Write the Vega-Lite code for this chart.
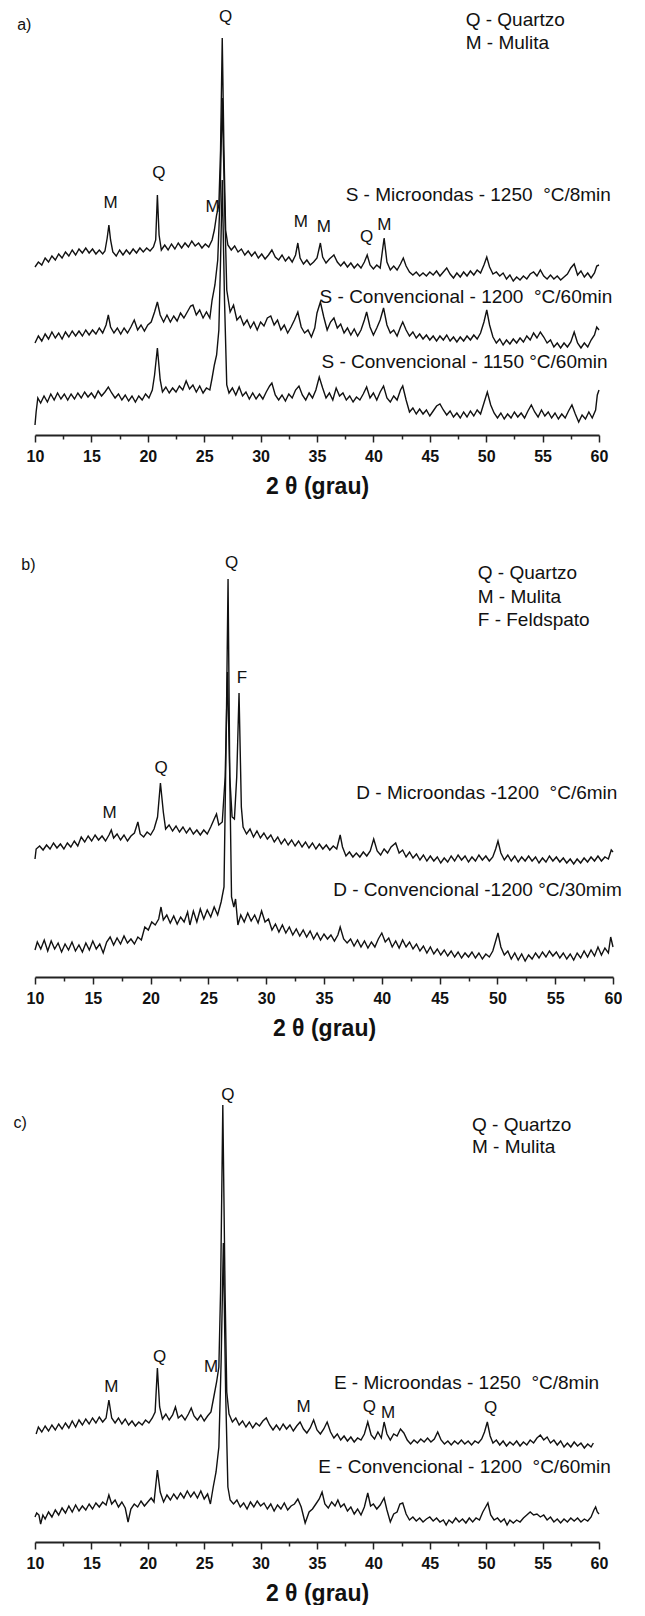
{
"$schema": "https://vega.github.io/schema/vega-lite/v6.json",
"background": "white",
"padding": {"left": 13, "top": 5, "right": 0, "bottom": 0},
"spacing": 110,
"bounds": "flush",
"config": {
  "view": {"stroke": null},
  "font": "Liberation Sans",
  "axis": {"grid": false, "domainColor": "#222", "domainWidth": 2, "tickColor": "#222", "tickWidth": 1.5, "labelFont": "Liberation Sans", "labelFontWeight": "bold", "labelFontSize": 16, "labelColor": "#111", "titleFont": "Liberation Sans", "titleFontWeight": "bold", "titleFontSize": 23, "titleColor": "#111", "labelFlush": false, "labelOverlap": false}
},
"datasets": {
"ca": [
{"c":"a1","x":10.0,"y":168},{"c":"a1","x":10.3,"y":173},{"c":"a1","x":10.6,"y":170},{"c":"a1","x":10.9,"y":177},{"c":"a1","x":11.2,"y":173},{"c":"a1","x":11.5,"y":179},{"c":"a1","x":11.8,"y":175},{"c":"a1","x":12.1,"y":181},{"c":"a1","x":12.4,"y":177},{"c":"a1","x":12.7,"y":183},{"c":"a1","x":13.0,"y":179},{"c":"a1","x":13.3,"y":185},{"c":"a1","x":13.6,"y":180},{"c":"a1","x":13.9,"y":186},{"c":"a1","x":14.2,"y":182},{"c":"a1","x":14.5,"y":187},{"c":"a1","x":14.8,"y":182},{"c":"a1","x":15.1,"y":186},{"c":"a1","x":15.4,"y":181},{"c":"a1","x":15.7,"y":185},{"c":"a1","x":16.0,"y":181},{"c":"a1","x":16.2,"y":184},{"c":"a1","x":16.4,"y":197},{"c":"a1","x":16.55,"y":210},{"c":"a1","x":16.7,"y":195},{"c":"a1","x":16.9,"y":183},{"c":"a1","x":17.2,"y":179},{"c":"a1","x":17.5,"y":185},{"c":"a1","x":17.8,"y":180},{"c":"a1","x":18.1,"y":185},{"c":"a1","x":18.4,"y":181},{"c":"a1","x":18.7,"y":186},{"c":"a1","x":19.0,"y":182},{"c":"a1","x":19.3,"y":187},{"c":"a1","x":19.6,"y":183},{"c":"a1","x":19.9,"y":187},{"c":"a1","x":20.2,"y":184},{"c":"a1","x":20.5,"y":188},{"c":"a1","x":20.7,"y":195},{"c":"a1","x":20.85,"y":240},{"c":"a1","x":21.0,"y":200},{"c":"a1","x":21.2,"y":185},{"c":"a1","x":21.5,"y":190},{"c":"a1","x":21.8,"y":185},{"c":"a1","x":22.1,"y":191},{"c":"a1","x":22.4,"y":186},{"c":"a1","x":22.7,"y":192},{"c":"a1","x":23.0,"y":187},{"c":"a1","x":23.3,"y":192},{"c":"a1","x":23.6,"y":188},{"c":"a1","x":23.9,"y":194},{"c":"a1","x":24.2,"y":189},{"c":"a1","x":24.5,"y":192},{"c":"a1","x":24.8,"y":187},{"c":"a1","x":25.1,"y":191},{"c":"a1","x":25.4,"y":188},{"c":"a1","x":25.7,"y":195},{"c":"a1","x":25.9,"y":205},{"c":"a1","x":26.1,"y":220},{"c":"a1","x":26.3,"y":230},{"c":"a1","x":26.45,"y":285},{"c":"a1","x":26.6,"y":397},{"c":"a1","x":26.75,"y":285},{"c":"a1","x":26.9,"y":205},{"c":"a1","x":27.1,"y":190},{"c":"a1","x":27.4,"y":185},{"c":"a1","x":27.7,"y":189},{"c":"a1","x":28.0,"y":183},{"c":"a1","x":28.3,"y":186},{"c":"a1","x":28.6,"y":180},{"c":"a1","x":28.9,"y":184},{"c":"a1","x":29.2,"y":179},{"c":"a1","x":29.5,"y":183},{"c":"a1","x":29.8,"y":177},{"c":"a1","x":30.1,"y":181},{"c":"a1","x":30.4,"y":176},{"c":"a1","x":30.7,"y":180},{"c":"a1","x":31.0,"y":185},{"c":"a1","x":31.3,"y":178},{"c":"a1","x":31.6,"y":175},{"c":"a1","x":31.9,"y":180},{"c":"a1","x":32.2,"y":174},{"c":"a1","x":32.5,"y":178},{"c":"a1","x":32.8,"y":173},{"c":"a1","x":33.1,"y":180},{"c":"a1","x":33.3,"y":192},{"c":"a1","x":33.5,"y":177},{"c":"a1","x":33.8,"y":171},{"c":"a1","x":34.1,"y":175},{"c":"a1","x":34.4,"y":170},{"c":"a1","x":34.7,"y":173},{"c":"a1","x":35.0,"y":177},{"c":"a1","x":35.3,"y":192},{"c":"a1","x":35.5,"y":178},{"c":"a1","x":35.8,"y":172},{"c":"a1","x":36.1,"y":176},{"c":"a1","x":36.5,"y":180},{"c":"a1","x":36.8,"y":173},{"c":"a1","x":37.1,"y":169},{"c":"a1","x":37.4,"y":173},{"c":"a1","x":37.7,"y":168},{"c":"a1","x":38.0,"y":172},{"c":"a1","x":38.3,"y":167},{"c":"a1","x":38.6,"y":171},{"c":"a1","x":38.9,"y":167},{"c":"a1","x":39.2,"y":173},{"c":"a1","x":39.45,"y":180},{"c":"a1","x":39.7,"y":170},{"c":"a1","x":40.0,"y":166},{"c":"a1","x":40.3,"y":170},{"c":"a1","x":40.6,"y":167},{"c":"a1","x":40.95,"y":197},{"c":"a1","x":41.2,"y":173},{"c":"a1","x":41.5,"y":165},{"c":"a1","x":41.8,"y":169},{"c":"a1","x":42.1,"y":165},{"c":"a1","x":42.4,"y":171},{"c":"a1","x":42.65,"y":177},{"c":"a1","x":42.9,"y":169},{"c":"a1","x":43.2,"y":163},{"c":"a1","x":43.5,"y":160},{"c":"a1","x":43.8,"y":163},{"c":"a1","x":44.1,"y":159},{"c":"a1","x":44.4,"y":162},{"c":"a1","x":44.7,"y":159},{"c":"a1","x":45.0,"y":163},{"c":"a1","x":45.3,"y":160},{"c":"a1","x":45.6,"y":164},{"c":"a1","x":45.9,"y":159},{"c":"a1","x":46.2,"y":163},{"c":"a1","x":46.5,"y":167},{"c":"a1","x":46.8,"y":161},{"c":"a1","x":47.1,"y":157},{"c":"a1","x":47.4,"y":162},{"c":"a1","x":47.7,"y":158},{"c":"a1","x":48.0,"y":163},{"c":"a1","x":48.3,"y":159},{"c":"a1","x":48.6,"y":164},{"c":"a1","x":48.9,"y":160},{"c":"a1","x":49.2,"y":165},{"c":"a1","x":49.5,"y":162},{"c":"a1","x":49.8,"y":170},{"c":"a1","x":50.05,"y":178},{"c":"a1","x":50.3,"y":168},{"c":"a1","x":50.6,"y":161},{"c":"a1","x":50.9,"y":163},{"c":"a1","x":51.2,"y":159},{"c":"a1","x":51.5,"y":162},{"c":"a1","x":51.8,"y":156},{"c":"a1","x":52.1,"y":160},{"c":"a1","x":52.4,"y":154},{"c":"a1","x":52.7,"y":158},{"c":"a1","x":53.0,"y":155},{"c":"a1","x":53.3,"y":159},{"c":"a1","x":53.6,"y":156},{"c":"a1","x":53.9,"y":161},{"c":"a1","x":54.2,"y":163},{"c":"a1","x":54.5,"y":159},{"c":"a1","x":54.8,"y":165},{"c":"a1","x":55.1,"y":159},{"c":"a1","x":55.4,"y":156},{"c":"a1","x":55.7,"y":160},{"c":"a1","x":56.0,"y":156},{"c":"a1","x":56.3,"y":159},{"c":"a1","x":56.6,"y":155},{"c":"a1","x":56.9,"y":158},{"c":"a1","x":57.2,"y":161},{"c":"a1","x":57.5,"y":167},{"c":"a1","x":57.8,"y":171},{"c":"a1","x":58.1,"y":160},{"c":"a1","x":58.4,"y":164},{"c":"a1","x":58.7,"y":158},{"c":"a1","x":59.0,"y":162},{"c":"a1","x":59.3,"y":157},{"c":"a1","x":59.6,"y":162},{"c":"a1","x":59.8,"y":169},{"c":"a1","x":60.0,"y":170},
{"c":"a2","x":10.0,"y":92},{"c":"a2","x":10.3,"y":99},{"c":"a2","x":10.6,"y":94},{"c":"a2","x":10.9,"y":101},{"c":"a2","x":11.2,"y":96},{"c":"a2","x":11.5,"y":103},{"c":"a2","x":11.8,"y":97},{"c":"a2","x":12.1,"y":102},{"c":"a2","x":12.4,"y":96},{"c":"a2","x":12.7,"y":103},{"c":"a2","x":13.0,"y":98},{"c":"a2","x":13.3,"y":104},{"c":"a2","x":13.6,"y":99},{"c":"a2","x":13.9,"y":104},{"c":"a2","x":14.2,"y":99},{"c":"a2","x":14.5,"y":105},{"c":"a2","x":14.8,"y":100},{"c":"a2","x":15.1,"y":105},{"c":"a2","x":15.4,"y":101},{"c":"a2","x":15.7,"y":107},{"c":"a2","x":16.0,"y":102},{"c":"a2","x":16.3,"y":110},{"c":"a2","x":16.5,"y":120},{"c":"a2","x":16.7,"y":108},{"c":"a2","x":17.0,"y":102},{"c":"a2","x":17.3,"y":107},{"c":"a2","x":17.6,"y":101},{"c":"a2","x":17.9,"y":107},{"c":"a2","x":18.2,"y":102},{"c":"a2","x":18.5,"y":108},{"c":"a2","x":18.8,"y":115},{"c":"a2","x":19.1,"y":105},{"c":"a2","x":19.4,"y":110},{"c":"a2","x":19.7,"y":104},{"c":"a2","x":20.0,"y":110},{"c":"a2","x":20.3,"y":113},{"c":"a2","x":20.6,"y":123},{"c":"a2","x":20.85,"y":133},{"c":"a2","x":21.1,"y":120},{"c":"a2","x":21.4,"y":113},{"c":"a2","x":21.7,"y":120},{"c":"a2","x":22.0,"y":113},{"c":"a2","x":22.3,"y":119},{"c":"a2","x":22.6,"y":114},{"c":"a2","x":22.9,"y":122},{"c":"a2","x":23.2,"y":117},{"c":"a2","x":23.5,"y":123},{"c":"a2","x":23.8,"y":129},{"c":"a2","x":24.0,"y":130},{"c":"a2","x":24.3,"y":120},{"c":"a2","x":24.6,"y":125},{"c":"a2","x":24.9,"y":117},{"c":"a2","x":25.2,"y":123},{"c":"a2","x":25.5,"y":117},{"c":"a2","x":25.7,"y":135},{"c":"a2","x":25.95,"y":150},{"c":"a2","x":26.2,"y":175},{"c":"a2","x":26.4,"y":235},{"c":"a2","x":26.6,"y":337},{"c":"a2","x":26.8,"y":235},{"c":"a2","x":27.0,"y":145},{"c":"a2","x":27.3,"y":123},{"c":"a2","x":27.6,"y":130},{"c":"a2","x":27.9,"y":115},{"c":"a2","x":28.2,"y":119},{"c":"a2","x":28.5,"y":110},{"c":"a2","x":28.8,"y":115},{"c":"a2","x":29.1,"y":107},{"c":"a2","x":29.4,"y":113},{"c":"a2","x":29.7,"y":105},{"c":"a2","x":30.0,"y":113},{"c":"a2","x":30.3,"y":109},{"c":"a2","x":30.6,"y":117},{"c":"a2","x":30.9,"y":119},{"c":"a2","x":31.2,"y":110},{"c":"a2","x":31.5,"y":115},{"c":"a2","x":31.8,"y":105},{"c":"a2","x":32.1,"y":110},{"c":"a2","x":32.4,"y":102},{"c":"a2","x":32.7,"y":108},{"c":"a2","x":33.0,"y":115},{"c":"a2","x":33.3,"y":123},{"c":"a2","x":33.6,"y":108},{"c":"a2","x":33.9,"y":102},{"c":"a2","x":34.2,"y":105},{"c":"a2","x":34.5,"y":98},{"c":"a2","x":34.8,"y":107},{"c":"a2","x":35.0,"y":122},{"c":"a2","x":35.3,"y":133},{"c":"a2","x":35.6,"y":118},{"c":"a2","x":35.9,"y":105},{"c":"a2","x":36.2,"y":113},{"c":"a2","x":36.5,"y":117},{"c":"a2","x":36.8,"y":107},{"c":"a2","x":37.1,"y":111},{"c":"a2","x":37.4,"y":102},{"c":"a2","x":37.7,"y":107},{"c":"a2","x":38.0,"y":100},{"c":"a2","x":38.3,"y":106},{"c":"a2","x":38.6,"y":99},{"c":"a2","x":38.9,"y":105},{"c":"a2","x":39.2,"y":115},{"c":"a2","x":39.4,"y":123},{"c":"a2","x":39.7,"y":108},{"c":"a2","x":40.0,"y":100},{"c":"a2","x":40.3,"y":107},{"c":"a2","x":40.6,"y":115},{"c":"a2","x":40.9,"y":127},{"c":"a2","x":41.2,"y":110},{"c":"a2","x":41.5,"y":102},{"c":"a2","x":41.8,"y":105},{"c":"a2","x":42.1,"y":99},{"c":"a2","x":42.4,"y":108},{"c":"a2","x":42.6,"y":113},{"c":"a2","x":42.9,"y":105},{"c":"a2","x":43.2,"y":99},{"c":"a2","x":43.5,"y":103},{"c":"a2","x":43.8,"y":97},{"c":"a2","x":44.1,"y":101},{"c":"a2","x":44.4,"y":96},{"c":"a2","x":44.7,"y":100},{"c":"a2","x":45.0,"y":95},{"c":"a2","x":45.3,"y":99},{"c":"a2","x":45.6,"y":94},{"c":"a2","x":45.9,"y":99},{"c":"a2","x":46.2,"y":95},{"c":"a2","x":46.5,"y":100},{"c":"a2","x":46.8,"y":94},{"c":"a2","x":47.1,"y":98},{"c":"a2","x":47.4,"y":93},{"c":"a2","x":47.7,"y":98},{"c":"a2","x":48.0,"y":94},{"c":"a2","x":48.3,"y":99},{"c":"a2","x":48.6,"y":95},{"c":"a2","x":48.9,"y":100},{"c":"a2","x":49.2,"y":96},{"c":"a2","x":49.5,"y":102},{"c":"a2","x":49.8,"y":113},{"c":"a2","x":50.05,"y":125},{"c":"a2","x":50.3,"y":110},{"c":"a2","x":50.6,"y":98},{"c":"a2","x":50.9,"y":92},{"c":"a2","x":51.2,"y":96},{"c":"a2","x":51.5,"y":90},{"c":"a2","x":51.8,"y":95},{"c":"a2","x":52.1,"y":91},{"c":"a2","x":52.4,"y":96},{"c":"a2","x":52.7,"y":92},{"c":"a2","x":53.0,"y":97},{"c":"a2","x":53.3,"y":93},{"c":"a2","x":53.6,"y":99},{"c":"a2","x":53.9,"y":95},{"c":"a2","x":54.2,"y":102},{"c":"a2","x":54.5,"y":97},{"c":"a2","x":54.8,"y":103},{"c":"a2","x":55.1,"y":98},{"c":"a2","x":55.4,"y":92},{"c":"a2","x":55.7,"y":95},{"c":"a2","x":56.0,"y":88},{"c":"a2","x":56.3,"y":92},{"c":"a2","x":56.6,"y":87},{"c":"a2","x":56.9,"y":92},{"c":"a2","x":57.2,"y":88},{"c":"a2","x":57.5,"y":93},{"c":"a2","x":57.8,"y":103},{"c":"a2","x":58.1,"y":92},{"c":"a2","x":58.4,"y":87},{"c":"a2","x":58.7,"y":92},{"c":"a2","x":59.0,"y":88},{"c":"a2","x":59.3,"y":95},{"c":"a2","x":59.6,"y":100},{"c":"a2","x":59.8,"y":108},{"c":"a2","x":60.0,"y":105},
{"c":"a3","x":10.0,"y":10},{"c":"a3","x":10.1,"y":23},{"c":"a3","x":10.25,"y":37},{"c":"a3","x":10.5,"y":32},{"c":"a3","x":10.8,"y":39},{"c":"a3","x":11.1,"y":33},{"c":"a3","x":11.4,"y":41},{"c":"a3","x":11.7,"y":35},{"c":"a3","x":12.0,"y":42},{"c":"a3","x":12.3,"y":36},{"c":"a3","x":12.6,"y":41},{"c":"a3","x":12.9,"y":35},{"c":"a3","x":13.2,"y":41},{"c":"a3","x":13.5,"y":36},{"c":"a3","x":13.8,"y":42},{"c":"a3","x":14.1,"y":37},{"c":"a3","x":14.4,"y":43},{"c":"a3","x":14.7,"y":38},{"c":"a3","x":15.0,"y":42},{"c":"a3","x":15.3,"y":37},{"c":"a3","x":15.6,"y":44},{"c":"a3","x":15.9,"y":39},{"c":"a3","x":16.2,"y":43},{"c":"a3","x":16.5,"y":48},{"c":"a3","x":16.8,"y":42},{"c":"a3","x":17.1,"y":37},{"c":"a3","x":17.4,"y":41},{"c":"a3","x":17.7,"y":35},{"c":"a3","x":18.0,"y":40},{"c":"a3","x":18.3,"y":34},{"c":"a3","x":18.6,"y":39},{"c":"a3","x":18.9,"y":33},{"c":"a3","x":19.2,"y":39},{"c":"a3","x":19.5,"y":35},{"c":"a3","x":19.8,"y":41},{"c":"a3","x":20.1,"y":37},{"c":"a3","x":20.4,"y":45},{"c":"a3","x":20.6,"y":60},{"c":"a3","x":20.85,"y":87},{"c":"a3","x":21.1,"y":55},{"c":"a3","x":21.3,"y":43},{"c":"a3","x":21.6,"y":48},{"c":"a3","x":21.9,"y":42},{"c":"a3","x":22.2,"y":47},{"c":"a3","x":22.5,"y":43},{"c":"a3","x":22.8,"y":49},{"c":"a3","x":23.1,"y":45},{"c":"a3","x":23.4,"y":54},{"c":"a3","x":23.7,"y":46},{"c":"a3","x":24.0,"y":50},{"c":"a3","x":24.3,"y":43},{"c":"a3","x":24.6,"y":49},{"c":"a3","x":24.9,"y":42},{"c":"a3","x":25.2,"y":47},{"c":"a3","x":25.5,"y":45},{"c":"a3","x":25.7,"y":57},{"c":"a3","x":25.9,"y":70},{"c":"a3","x":26.1,"y":80},{"c":"a3","x":26.3,"y":105},{"c":"a3","x":26.45,"y":175},{"c":"a3","x":26.6,"y":255},{"c":"a3","x":26.8,"y":135},{"c":"a3","x":27.0,"y":50},{"c":"a3","x":27.2,"y":42},{"c":"a3","x":27.5,"y":47},{"c":"a3","x":27.8,"y":40},{"c":"a3","x":28.1,"y":48},{"c":"a3","x":28.4,"y":39},{"c":"a3","x":28.7,"y":43},{"c":"a3","x":29.0,"y":36},{"c":"a3","x":29.3,"y":42},{"c":"a3","x":29.6,"y":36},{"c":"a3","x":29.9,"y":41},{"c":"a3","x":30.2,"y":36},{"c":"a3","x":30.5,"y":43},{"c":"a3","x":30.8,"y":49},{"c":"a3","x":31.0,"y":52},{"c":"a3","x":31.3,"y":40},{"c":"a3","x":31.6,"y":35},{"c":"a3","x":31.9,"y":40},{"c":"a3","x":32.2,"y":34},{"c":"a3","x":32.5,"y":41},{"c":"a3","x":32.8,"y":37},{"c":"a3","x":33.1,"y":45},{"c":"a3","x":33.4,"y":49},{"c":"a3","x":33.7,"y":40},{"c":"a3","x":34.0,"y":35},{"c":"a3","x":34.3,"y":42},{"c":"a3","x":34.6,"y":37},{"c":"a3","x":34.9,"y":45},{"c":"a3","x":35.2,"y":58},{"c":"a3","x":35.5,"y":47},{"c":"a3","x":35.8,"y":37},{"c":"a3","x":36.1,"y":42},{"c":"a3","x":36.4,"y":35},{"c":"a3","x":36.7,"y":47},{"c":"a3","x":37.0,"y":39},{"c":"a3","x":37.3,"y":42},{"c":"a3","x":37.6,"y":35},{"c":"a3","x":37.9,"y":39},{"c":"a3","x":38.2,"y":33},{"c":"a3","x":38.5,"y":38},{"c":"a3","x":38.8,"y":35},{"c":"a3","x":39.1,"y":41},{"c":"a3","x":39.4,"y":48},{"c":"a3","x":39.7,"y":37},{"c":"a3","x":40.0,"y":42},{"c":"a3","x":40.3,"y":35},{"c":"a3","x":40.6,"y":43},{"c":"a3","x":40.9,"y":49},{"c":"a3","x":41.2,"y":37},{"c":"a3","x":41.5,"y":33},{"c":"a3","x":41.8,"y":39},{"c":"a3","x":42.1,"y":35},{"c":"a3","x":42.4,"y":45},{"c":"a3","x":42.6,"y":49},{"c":"a3","x":42.9,"y":35},{"c":"a3","x":43.2,"y":23},{"c":"a3","x":43.5,"y":27},{"c":"a3","x":43.8,"y":21},{"c":"a3","x":44.1,"y":26},{"c":"a3","x":44.4,"y":21},{"c":"a3","x":44.7,"y":25},{"c":"a3","x":45.0,"y":19},{"c":"a3","x":45.3,"y":24},{"c":"a3","x":45.6,"y":29},{"c":"a3","x":45.9,"y":31},{"c":"a3","x":46.2,"y":25},{"c":"a3","x":46.5,"y":20},{"c":"a3","x":46.8,"y":24},{"c":"a3","x":47.1,"y":18},{"c":"a3","x":47.4,"y":22},{"c":"a3","x":47.7,"y":17},{"c":"a3","x":48.0,"y":23},{"c":"a3","x":48.3,"y":18},{"c":"a3","x":48.6,"y":24},{"c":"a3","x":48.9,"y":19},{"c":"a3","x":49.2,"y":25},{"c":"a3","x":49.5,"y":21},{"c":"a3","x":49.8,"y":32},{"c":"a3","x":50.1,"y":43},{"c":"a3","x":50.4,"y":30},{"c":"a3","x":50.7,"y":22},{"c":"a3","x":51.0,"y":17},{"c":"a3","x":51.3,"y":22},{"c":"a3","x":51.6,"y":16},{"c":"a3","x":51.9,"y":21},{"c":"a3","x":52.2,"y":17},{"c":"a3","x":52.5,"y":23},{"c":"a3","x":52.8,"y":18},{"c":"a3","x":53.1,"y":22},{"c":"a3","x":53.4,"y":17},{"c":"a3","x":53.7,"y":24},{"c":"a3","x":54.0,"y":30},{"c":"a3","x":54.3,"y":23},{"c":"a3","x":54.6,"y":18},{"c":"a3","x":54.9,"y":25},{"c":"a3","x":55.2,"y":19},{"c":"a3","x":55.5,"y":23},{"c":"a3","x":55.8,"y":17},{"c":"a3","x":56.1,"y":22},{"c":"a3","x":56.4,"y":16},{"c":"a3","x":56.7,"y":21},{"c":"a3","x":57.0,"y":17},{"c":"a3","x":57.3,"y":24},{"c":"a3","x":57.6,"y":30},{"c":"a3","x":57.9,"y":21},{"c":"a3","x":58.2,"y":13},{"c":"a3","x":58.5,"y":20},{"c":"a3","x":58.8,"y":16},{"c":"a3","x":59.1,"y":23},{"c":"a3","x":59.4,"y":17},{"c":"a3","x":59.7,"y":25},{"c":"a3","x":59.85,"y":40},{"c":"a3","x":60.0,"y":45}
],
"ta": [
{"k":"panel","x":8.42,"y":410,"t":"a)"},
{"k":"peak","x":26.9,"y":418,"t":"Q"},
{"k":"label","x":48.18,"y":415,"t":"Q - Quartzo"},
{"k":"label","x":48.18,"y":392,"t":"M - Mulita"},
{"k":"peak","x":20.97,"y":262,"t":"Q"},
{"k":"label","x":37.54,"y":240,"t":"S - Microondas - 1250 \u00a0°C/8min"},
{"k":"peak","x":16.71,"y":232,"t":"M"},
{"k":"peak","x":25.75,"y":228,"t":"M"},
{"k":"peak","x":33.56,"y":213,"t":"M"},
{"k":"peak","x":35.6,"y":208,"t":"M"},
{"k":"peak","x":39.4,"y":198,"t":"Q"},
{"k":"peak","x":40.96,"y":210,"t":"M"},
{"k":"label","x":35.23,"y":138,"t":"S - Convencional - 1200 \u00a0°C/60min"},
{"k":"label","x":35.4,"y":73,"t":"S - Convencional - 1150 °C/60min"}
],
"cb": [
{"c":"b1","x":10.0,"y":118},{"c":"b1","x":10.1,"y":128},{"c":"b1","x":10.4,"y":131},{"c":"b1","x":10.7,"y":127},{"c":"b1","x":11.0,"y":132},{"c":"b1","x":11.3,"y":128},{"c":"b1","x":11.6,"y":134},{"c":"b1","x":11.9,"y":129},{"c":"b1","x":12.2,"y":133},{"c":"b1","x":12.5,"y":128},{"c":"b1","x":12.8,"y":134},{"c":"b1","x":13.1,"y":130},{"c":"b1","x":13.4,"y":136},{"c":"b1","x":13.7,"y":131},{"c":"b1","x":14.0,"y":140},{"c":"b1","x":14.3,"y":135},{"c":"b1","x":14.6,"y":141},{"c":"b1","x":14.9,"y":136},{"c":"b1","x":15.2,"y":142},{"c":"b1","x":15.5,"y":137},{"c":"b1","x":15.8,"y":141},{"c":"b1","x":16.1,"y":136},{"c":"b1","x":16.4,"y":142},{"c":"b1","x":16.6,"y":147},{"c":"b1","x":16.8,"y":139},{"c":"b1","x":17.1,"y":143},{"c":"b1","x":17.4,"y":137},{"c":"b1","x":17.7,"y":142},{"c":"b1","x":18.0,"y":136},{"c":"b1","x":18.3,"y":141},{"c":"b1","x":18.6,"y":144},{"c":"b1","x":18.9,"y":155},{"c":"b1","x":19.1,"y":143},{"c":"b1","x":19.4,"y":140},{"c":"b1","x":19.7,"y":145},{"c":"b1","x":20.0,"y":142},{"c":"b1","x":20.3,"y":148},{"c":"b1","x":20.6,"y":160},{"c":"b1","x":20.85,"y":194},{"c":"b1","x":21.1,"y":165},{"c":"b1","x":21.3,"y":148},{"c":"b1","x":21.6,"y":152},{"c":"b1","x":21.9,"y":146},{"c":"b1","x":22.2,"y":151},{"c":"b1","x":22.5,"y":145},{"c":"b1","x":22.8,"y":150},{"c":"b1","x":23.1,"y":144},{"c":"b1","x":23.4,"y":149},{"c":"b1","x":23.7,"y":143},{"c":"b1","x":24.0,"y":147},{"c":"b1","x":24.3,"y":142},{"c":"b1","x":24.6,"y":147},{"c":"b1","x":24.9,"y":143},{"c":"b1","x":25.2,"y":150},{"c":"b1","x":25.5,"y":158},{"c":"b1","x":25.7,"y":163},{"c":"b1","x":25.9,"y":152},{"c":"b1","x":26.2,"y":155},{"c":"b1","x":26.45,"y":200},{"c":"b1","x":26.65,"y":305},{"c":"b1","x":26.85,"y":200},{"c":"b1","x":27.05,"y":160},{"c":"b1","x":27.25,"y":158},{"c":"b1","x":27.45,"y":200},{"c":"b1","x":27.65,"y":284},{"c":"b1","x":27.85,"y":170},{"c":"b1","x":28.0,"y":150},{"c":"b1","x":28.3,"y":143},{"c":"b1","x":28.6,"y":148},{"c":"b1","x":28.9,"y":140},{"c":"b1","x":29.2,"y":146},{"c":"b1","x":29.5,"y":139},{"c":"b1","x":29.8,"y":144},{"c":"b1","x":30.1,"y":138},{"c":"b1","x":30.4,"y":142},{"c":"b1","x":30.7,"y":135},{"c":"b1","x":31.0,"y":140},{"c":"b1","x":31.3,"y":133},{"c":"b1","x":31.6,"y":138},{"c":"b1","x":31.9,"y":132},{"c":"b1","x":32.2,"y":137},{"c":"b1","x":32.5,"y":131},{"c":"b1","x":32.8,"y":136},{"c":"b1","x":33.1,"y":130},{"c":"b1","x":33.4,"y":135},{"c":"b1","x":33.7,"y":129},{"c":"b1","x":34.0,"y":134},{"c":"b1","x":34.3,"y":128},{"c":"b1","x":34.6,"y":133},{"c":"b1","x":34.9,"y":128},{"c":"b1","x":35.2,"y":132},{"c":"b1","x":35.5,"y":127},{"c":"b1","x":35.8,"y":131},{"c":"b1","x":36.1,"y":128},{"c":"b1","x":36.4,"y":142},{"c":"b1","x":36.6,"y":130},{"c":"b1","x":36.9,"y":121},{"c":"b1","x":37.2,"y":125},{"c":"b1","x":37.5,"y":120},{"c":"b1","x":37.8,"y":124},{"c":"b1","x":38.1,"y":120},{"c":"b1","x":38.4,"y":125},{"c":"b1","x":38.7,"y":121},{"c":"b1","x":39.0,"y":126},{"c":"b1","x":39.3,"y":138},{"c":"b1","x":39.6,"y":126},{"c":"b1","x":39.9,"y":122},{"c":"b1","x":40.2,"y":128},{"c":"b1","x":40.5,"y":124},{"c":"b1","x":40.8,"y":130},{"c":"b1","x":41.2,"y":134},{"c":"b1","x":41.5,"y":124},{"c":"b1","x":41.8,"y":127},{"c":"b1","x":42.1,"y":120},{"c":"b1","x":42.4,"y":125},{"c":"b1","x":42.7,"y":119},{"c":"b1","x":43.0,"y":123},{"c":"b1","x":43.3,"y":117},{"c":"b1","x":43.6,"y":122},{"c":"b1","x":43.9,"y":116},{"c":"b1","x":44.2,"y":121},{"c":"b1","x":44.5,"y":116},{"c":"b1","x":44.8,"y":120},{"c":"b1","x":45.1,"y":114},{"c":"b1","x":45.4,"y":119},{"c":"b1","x":45.7,"y":115},{"c":"b1","x":46.0,"y":121},{"c":"b1","x":46.3,"y":116},{"c":"b1","x":46.6,"y":122},{"c":"b1","x":46.9,"y":117},{"c":"b1","x":47.2,"y":121},{"c":"b1","x":47.5,"y":115},{"c":"b1","x":47.8,"y":120},{"c":"b1","x":48.1,"y":116},{"c":"b1","x":48.4,"y":122},{"c":"b1","x":48.7,"y":117},{"c":"b1","x":49.0,"y":121},{"c":"b1","x":49.3,"y":116},{"c":"b1","x":49.6,"y":120},{"c":"b1","x":49.85,"y":128},{"c":"b1","x":50.05,"y":136},{"c":"b1","x":50.3,"y":124},{"c":"b1","x":50.6,"y":117},{"c":"b1","x":50.9,"y":122},{"c":"b1","x":51.2,"y":116},{"c":"b1","x":51.5,"y":121},{"c":"b1","x":51.8,"y":115},{"c":"b1","x":52.1,"y":120},{"c":"b1","x":52.4,"y":116},{"c":"b1","x":52.7,"y":121},{"c":"b1","x":53.0,"y":116},{"c":"b1","x":53.3,"y":120},{"c":"b1","x":53.6,"y":114},{"c":"b1","x":53.9,"y":119},{"c":"b1","x":54.2,"y":115},{"c":"b1","x":54.5,"y":121},{"c":"b1","x":54.8,"y":116},{"c":"b1","x":55.1,"y":120},{"c":"b1","x":55.4,"y":115},{"c":"b1","x":55.7,"y":119},{"c":"b1","x":56.0,"y":114},{"c":"b1","x":56.3,"y":118},{"c":"b1","x":56.6,"y":113},{"c":"b1","x":56.9,"y":118},{"c":"b1","x":57.2,"y":114},{"c":"b1","x":57.5,"y":119},{"c":"b1","x":57.8,"y":115},{"c":"b1","x":58.1,"y":120},{"c":"b1","x":58.4,"y":116},{"c":"b1","x":58.7,"y":121},{"c":"b1","x":59.0,"y":116},{"c":"b1","x":59.3,"y":120},{"c":"b1","x":59.6,"y":118},{"c":"b1","x":59.85,"y":127},{"c":"b1","x":60.0,"y":125},
{"c":"b2","x":10.0,"y":27},{"c":"b2","x":10.2,"y":35},{"c":"b2","x":10.5,"y":28},{"c":"b2","x":10.8,"y":37},{"c":"b2","x":11.1,"y":26},{"c":"b2","x":11.4,"y":36},{"c":"b2","x":11.7,"y":28},{"c":"b2","x":12.0,"y":34},{"c":"b2","x":12.3,"y":25},{"c":"b2","x":12.6,"y":33},{"c":"b2","x":12.9,"y":27},{"c":"b2","x":13.2,"y":35},{"c":"b2","x":13.5,"y":26},{"c":"b2","x":13.8,"y":32},{"c":"b2","x":14.1,"y":25},{"c":"b2","x":14.4,"y":34},{"c":"b2","x":14.7,"y":27},{"c":"b2","x":15.0,"y":36},{"c":"b2","x":15.3,"y":28},{"c":"b2","x":15.6,"y":33},{"c":"b2","x":15.9,"y":24},{"c":"b2","x":16.2,"y":35},{"c":"b2","x":16.5,"y":40},{"c":"b2","x":16.8,"y":32},{"c":"b2","x":17.1,"y":39},{"c":"b2","x":17.4,"y":33},{"c":"b2","x":17.7,"y":41},{"c":"b2","x":18.0,"y":34},{"c":"b2","x":18.3,"y":38},{"c":"b2","x":18.6,"y":33},{"c":"b2","x":18.9,"y":40},{"c":"b2","x":19.2,"y":37},{"c":"b2","x":19.5,"y":50},{"c":"b2","x":19.8,"y":47},{"c":"b2","x":20.1,"y":55},{"c":"b2","x":20.4,"y":52},{"c":"b2","x":20.7,"y":58},{"c":"b2","x":20.9,"y":70},{"c":"b2","x":21.1,"y":57},{"c":"b2","x":21.4,"y":62},{"c":"b2","x":21.7,"y":54},{"c":"b2","x":22.0,"y":61},{"c":"b2","x":22.3,"y":53},{"c":"b2","x":22.6,"y":60},{"c":"b2","x":22.9,"y":55},{"c":"b2","x":23.2,"y":65},{"c":"b2","x":23.4,"y":52},{"c":"b2","x":23.7,"y":66},{"c":"b2","x":24.0,"y":55},{"c":"b2","x":24.3,"y":68},{"c":"b2","x":24.6,"y":58},{"c":"b2","x":24.9,"y":67},{"c":"b2","x":25.2,"y":60},{"c":"b2","x":25.5,"y":70},{"c":"b2","x":25.8,"y":62},{"c":"b2","x":26.1,"y":75},{"c":"b2","x":26.35,"y":90},{"c":"b2","x":26.55,"y":250},{"c":"b2","x":26.7,"y":398},{"c":"b2","x":26.85,"y":200},{"c":"b2","x":27.0,"y":80},{"c":"b2","x":27.2,"y":70},{"c":"b2","x":27.35,"y":78},{"c":"b2","x":27.55,"y":52},{"c":"b2","x":27.8,"y":62},{"c":"b2","x":28.1,"y":55},{"c":"b2","x":28.4,"y":64},{"c":"b2","x":28.7,"y":56},{"c":"b2","x":29.0,"y":62},{"c":"b2","x":29.3,"y":54},{"c":"b2","x":29.6,"y":66},{"c":"b2","x":29.9,"y":55},{"c":"b2","x":30.2,"y":58},{"c":"b2","x":30.5,"y":47},{"c":"b2","x":30.8,"y":53},{"c":"b2","x":31.1,"y":45},{"c":"b2","x":31.4,"y":52},{"c":"b2","x":31.7,"y":44},{"c":"b2","x":32.0,"y":50},{"c":"b2","x":32.3,"y":42},{"c":"b2","x":32.6,"y":48},{"c":"b2","x":32.9,"y":41},{"c":"b2","x":33.2,"y":47},{"c":"b2","x":33.5,"y":40},{"c":"b2","x":33.8,"y":46},{"c":"b2","x":34.1,"y":38},{"c":"b2","x":34.4,"y":44},{"c":"b2","x":34.7,"y":37},{"c":"b2","x":35.0,"y":43},{"c":"b2","x":35.3,"y":38},{"c":"b2","x":35.6,"y":42},{"c":"b2","x":35.9,"y":36},{"c":"b2","x":36.2,"y":42},{"c":"b2","x":36.4,"y":50},{"c":"b2","x":36.7,"y":38},{"c":"b2","x":37.0,"y":34},{"c":"b2","x":37.3,"y":38},{"c":"b2","x":37.6,"y":31},{"c":"b2","x":37.9,"y":37},{"c":"b2","x":38.2,"y":30},{"c":"b2","x":38.5,"y":36},{"c":"b2","x":38.8,"y":29},{"c":"b2","x":39.1,"y":35},{"c":"b2","x":39.4,"y":30},{"c":"b2","x":39.7,"y":38},{"c":"b2","x":40.0,"y":44},{"c":"b2","x":40.3,"y":35},{"c":"b2","x":40.6,"y":39},{"c":"b2","x":40.9,"y":30},{"c":"b2","x":41.2,"y":36},{"c":"b2","x":41.5,"y":29},{"c":"b2","x":41.8,"y":37},{"c":"b2","x":42.1,"y":30},{"c":"b2","x":42.4,"y":35},{"c":"b2","x":42.7,"y":28},{"c":"b2","x":43.0,"y":33},{"c":"b2","x":43.3,"y":26},{"c":"b2","x":43.6,"y":31},{"c":"b2","x":43.9,"y":24},{"c":"b2","x":44.2,"y":30},{"c":"b2","x":44.5,"y":23},{"c":"b2","x":44.8,"y":28},{"c":"b2","x":45.1,"y":22},{"c":"b2","x":45.4,"y":27},{"c":"b2","x":45.7,"y":21},{"c":"b2","x":46.0,"y":26},{"c":"b2","x":46.3,"y":20},{"c":"b2","x":46.6,"y":25},{"c":"b2","x":46.9,"y":19},{"c":"b2","x":47.2,"y":24},{"c":"b2","x":47.5,"y":20},{"c":"b2","x":47.8,"y":25},{"c":"b2","x":48.1,"y":19},{"c":"b2","x":48.4,"y":24},{"c":"b2","x":48.7,"y":18},{"c":"b2","x":49.0,"y":23},{"c":"b2","x":49.3,"y":20},{"c":"b2","x":49.6,"y":26},{"c":"b2","x":49.85,"y":36},{"c":"b2","x":50.05,"y":44},{"c":"b2","x":50.3,"y":30},{"c":"b2","x":50.6,"y":22},{"c":"b2","x":50.9,"y":26},{"c":"b2","x":51.2,"y":18},{"c":"b2","x":51.5,"y":24},{"c":"b2","x":51.8,"y":17},{"c":"b2","x":52.1,"y":23},{"c":"b2","x":52.4,"y":16},{"c":"b2","x":52.7,"y":22},{"c":"b2","x":53.0,"y":18},{"c":"b2","x":53.3,"y":24},{"c":"b2","x":53.6,"y":19},{"c":"b2","x":53.9,"y":25},{"c":"b2","x":54.2,"y":20},{"c":"b2","x":54.5,"y":26},{"c":"b2","x":54.8,"y":21},{"c":"b2","x":55.1,"y":25},{"c":"b2","x":55.4,"y":19},{"c":"b2","x":55.7,"y":24},{"c":"b2","x":56.0,"y":18},{"c":"b2","x":56.3,"y":23},{"c":"b2","x":56.6,"y":17},{"c":"b2","x":56.9,"y":24},{"c":"b2","x":57.2,"y":19},{"c":"b2","x":57.5,"y":26},{"c":"b2","x":57.8,"y":20},{"c":"b2","x":58.1,"y":27},{"c":"b2","x":58.4,"y":21},{"c":"b2","x":58.7,"y":30},{"c":"b2","x":59.0,"y":22},{"c":"b2","x":59.3,"y":29},{"c":"b2","x":59.6,"y":24},{"c":"b2","x":59.8,"y":40},{"c":"b2","x":60.0,"y":30}
],
"tb": [
{"k":"panel","x":8.81,"y":412,"t":"b)"},
{"k":"peak","x":27.0,"y":414,"t":"Q"},
{"k":"label","x":48.3,"y":404,"t":"Q - Quartzo"},
{"k":"label","x":48.3,"y":380,"t":"M - Mulita"},
{"k":"label","x":48.3,"y":357,"t":"F - Feldspato"},
{"k":"peak","x":27.9,"y":299,"t":"F"},
{"k":"peak","x":20.9,"y":209,"t":"Q"},
{"k":"peak","x":16.46,"y":164,"t":"M"},
{"k":"label","x":37.8,"y":184,"t":"D - Microondas -1200 \u00a0°C/6min"},
{"k":"label","x":35.8,"y":87,"t":"D - Convencional -1200 °C/30mim"}
],
"cc": [
{"c":"c1","x":10.1,"y":108},{"c":"c1","x":10.3,"y":115},{"c":"c1","x":10.6,"y":110},{"c":"c1","x":10.9,"y":116},{"c":"c1","x":11.2,"y":111},{"c":"c1","x":11.5,"y":117},{"c":"c1","x":11.8,"y":112},{"c":"c1","x":12.1,"y":118},{"c":"c1","x":12.4,"y":113},{"c":"c1","x":12.7,"y":119},{"c":"c1","x":13.0,"y":114},{"c":"c1","x":13.3,"y":121},{"c":"c1","x":13.6,"y":115},{"c":"c1","x":13.9,"y":122},{"c":"c1","x":14.2,"y":117},{"c":"c1","x":14.5,"y":123},{"c":"c1","x":14.8,"y":118},{"c":"c1","x":15.1,"y":124},{"c":"c1","x":15.4,"y":119},{"c":"c1","x":15.7,"y":125},{"c":"c1","x":16.0,"y":120},{"c":"c1","x":16.3,"y":124},{"c":"c1","x":16.55,"y":142},{"c":"c1","x":16.8,"y":124},{"c":"c1","x":17.1,"y":119},{"c":"c1","x":17.4,"y":124},{"c":"c1","x":17.7,"y":118},{"c":"c1","x":18.0,"y":123},{"c":"c1","x":18.3,"y":117},{"c":"c1","x":18.6,"y":121},{"c":"c1","x":18.9,"y":116},{"c":"c1","x":19.2,"y":120},{"c":"c1","x":19.5,"y":117},{"c":"c1","x":19.8,"y":122},{"c":"c1","x":20.1,"y":119},{"c":"c1","x":20.4,"y":124},{"c":"c1","x":20.65,"y":130},{"c":"c1","x":20.85,"y":174},{"c":"c1","x":21.05,"y":135},{"c":"c1","x":21.3,"y":123},{"c":"c1","x":21.6,"y":128},{"c":"c1","x":21.9,"y":122},{"c":"c1","x":22.2,"y":127},{"c":"c1","x":22.45,"y":135},{"c":"c1","x":22.7,"y":124},{"c":"c1","x":23.0,"y":127},{"c":"c1","x":23.3,"y":122},{"c":"c1","x":23.6,"y":128},{"c":"c1","x":23.85,"y":134},{"c":"c1","x":24.1,"y":126},{"c":"c1","x":24.4,"y":122},{"c":"c1","x":24.7,"y":127},{"c":"c1","x":25.0,"y":121},{"c":"c1","x":25.3,"y":126},{"c":"c1","x":25.6,"y":130},{"c":"c1","x":25.85,"y":145},{"c":"c1","x":26.1,"y":160},{"c":"c1","x":26.3,"y":175},{"c":"c1","x":26.45,"y":250},{"c":"c1","x":26.65,"y":437},{"c":"c1","x":26.85,"y":250},{"c":"c1","x":27.0,"y":150},{"c":"c1","x":27.2,"y":128},{"c":"c1","x":27.5,"y":120},{"c":"c1","x":27.8,"y":124},{"c":"c1","x":28.1,"y":117},{"c":"c1","x":28.4,"y":121},{"c":"c1","x":28.7,"y":115},{"c":"c1","x":29.0,"y":120},{"c":"c1","x":29.3,"y":114},{"c":"c1","x":29.6,"y":119},{"c":"c1","x":29.9,"y":116},{"c":"c1","x":30.2,"y":121},{"c":"c1","x":30.5,"y":124},{"c":"c1","x":30.8,"y":117},{"c":"c1","x":31.1,"y":112},{"c":"c1","x":31.4,"y":117},{"c":"c1","x":31.7,"y":112},{"c":"c1","x":32.0,"y":118},{"c":"c1","x":32.3,"y":113},{"c":"c1","x":32.6,"y":117},{"c":"c1","x":32.9,"y":111},{"c":"c1","x":33.2,"y":116},{"c":"c1","x":33.5,"y":120},{"c":"c1","x":33.8,"y":113},{"c":"c1","x":34.1,"y":109},{"c":"c1","x":34.4,"y":114},{"c":"c1","x":34.7,"y":122},{"c":"c1","x":35.0,"y":112},{"c":"c1","x":35.3,"y":108},{"c":"c1","x":35.6,"y":113},{"c":"c1","x":35.9,"y":120},{"c":"c1","x":36.2,"y":110},{"c":"c1","x":36.5,"y":104},{"c":"c1","x":36.8,"y":108},{"c":"c1","x":37.1,"y":102},{"c":"c1","x":37.4,"y":106},{"c":"c1","x":37.7,"y":101},{"c":"c1","x":38.0,"y":105},{"c":"c1","x":38.3,"y":100},{"c":"c1","x":38.6,"y":104},{"c":"c1","x":38.9,"y":102},{"c":"c1","x":39.2,"y":108},{"c":"c1","x":39.5,"y":120},{"c":"c1","x":39.8,"y":107},{"c":"c1","x":40.1,"y":103},{"c":"c1","x":40.4,"y":110},{"c":"c1","x":40.7,"y":104},{"c":"c1","x":40.95,"y":120},{"c":"c1","x":41.2,"y":108},{"c":"c1","x":41.5,"y":102},{"c":"c1","x":41.8,"y":108},{"c":"c1","x":42.1,"y":106},{"c":"c1","x":42.4,"y":113},{"c":"c1","x":42.7,"y":109},{"c":"c1","x":43.0,"y":102},{"c":"c1","x":43.3,"y":98},{"c":"c1","x":43.6,"y":102},{"c":"c1","x":43.9,"y":99},{"c":"c1","x":44.2,"y":103},{"c":"c1","x":44.5,"y":100},{"c":"c1","x":44.8,"y":104},{"c":"c1","x":45.1,"y":100},{"c":"c1","x":45.4,"y":103},{"c":"c1","x":45.7,"y":110},{"c":"c1","x":46.0,"y":102},{"c":"c1","x":46.3,"y":98},{"c":"c1","x":46.6,"y":101},{"c":"c1","x":46.9,"y":97},{"c":"c1","x":47.2,"y":101},{"c":"c1","x":47.5,"y":98},{"c":"c1","x":47.8,"y":102},{"c":"c1","x":48.1,"y":98},{"c":"c1","x":48.4,"y":101},{"c":"c1","x":48.7,"y":97},{"c":"c1","x":49.0,"y":101},{"c":"c1","x":49.3,"y":99},{"c":"c1","x":49.6,"y":103},{"c":"c1","x":49.85,"y":110},{"c":"c1","x":50.1,"y":120},{"c":"c1","x":50.35,"y":106},{"c":"c1","x":50.6,"y":99},{"c":"c1","x":50.9,"y":102},{"c":"c1","x":51.2,"y":97},{"c":"c1","x":51.5,"y":101},{"c":"c1","x":51.8,"y":96},{"c":"c1","x":52.1,"y":100},{"c":"c1","x":52.4,"y":97},{"c":"c1","x":52.7,"y":101},{"c":"c1","x":53.0,"y":96},{"c":"c1","x":53.3,"y":100},{"c":"c1","x":53.6,"y":97},{"c":"c1","x":53.9,"y":102},{"c":"c1","x":54.2,"y":99},{"c":"c1","x":54.5,"y":104},{"c":"c1","x":54.8,"y":107},{"c":"c1","x":55.1,"y":102},{"c":"c1","x":55.4,"y":105},{"c":"c1","x":55.7,"y":99},{"c":"c1","x":56.0,"y":102},{"c":"c1","x":56.3,"y":97},{"c":"c1","x":56.6,"y":101},{"c":"c1","x":56.9,"y":95},{"c":"c1","x":57.2,"y":99},{"c":"c1","x":57.5,"y":95},{"c":"c1","x":57.8,"y":100},{"c":"c1","x":58.1,"y":96},{"c":"c1","x":58.4,"y":99},{"c":"c1","x":58.7,"y":94},{"c":"c1","x":59.0,"y":98},{"c":"c1","x":59.3,"y":95},{"c":"c1","x":59.5,"y":99},
{"c":"c2","x":10.0,"y":25},{"c":"c2","x":10.15,"y":29},{"c":"c2","x":10.35,"y":27},{"c":"c2","x":10.5,"y":18},{"c":"c2","x":10.7,"y":27},{"c":"c2","x":10.9,"y":23},{"c":"c2","x":11.2,"y":30},{"c":"c2","x":11.5,"y":25},{"c":"c2","x":11.8,"y":32},{"c":"c2","x":12.1,"y":27},{"c":"c2","x":12.4,"y":34},{"c":"c2","x":12.7,"y":29},{"c":"c2","x":13.0,"y":36},{"c":"c2","x":13.3,"y":30},{"c":"c2","x":13.6,"y":37},{"c":"c2","x":13.9,"y":31},{"c":"c2","x":14.2,"y":36},{"c":"c2","x":14.5,"y":32},{"c":"c2","x":14.8,"y":38},{"c":"c2","x":15.1,"y":33},{"c":"c2","x":15.4,"y":39},{"c":"c2","x":15.7,"y":35},{"c":"c2","x":16.0,"y":40},{"c":"c2","x":16.3,"y":37},{"c":"c2","x":16.55,"y":47},{"c":"c2","x":16.8,"y":38},{"c":"c2","x":17.1,"y":42},{"c":"c2","x":17.4,"y":35},{"c":"c2","x":17.7,"y":40},{"c":"c2","x":18.0,"y":34},{"c":"c2","x":18.25,"y":20},{"c":"c2","x":18.5,"y":33},{"c":"c2","x":18.8,"y":38},{"c":"c2","x":19.1,"y":35},{"c":"c2","x":19.4,"y":41},{"c":"c2","x":19.7,"y":36},{"c":"c2","x":20.0,"y":40},{"c":"c2","x":20.3,"y":44},{"c":"c2","x":20.55,"y":40},{"c":"c2","x":20.85,"y":72},{"c":"c2","x":21.1,"y":50},{"c":"c2","x":21.4,"y":40},{"c":"c2","x":21.7,"y":47},{"c":"c2","x":22.0,"y":42},{"c":"c2","x":22.3,"y":48},{"c":"c2","x":22.6,"y":43},{"c":"c2","x":22.9,"y":49},{"c":"c2","x":23.2,"y":44},{"c":"c2","x":23.5,"y":51},{"c":"c2","x":23.8,"y":45},{"c":"c2","x":24.1,"y":50},{"c":"c2","x":24.4,"y":44},{"c":"c2","x":24.7,"y":51},{"c":"c2","x":25.0,"y":43},{"c":"c2","x":25.3,"y":48},{"c":"c2","x":25.55,"y":38},{"c":"c2","x":25.8,"y":55},{"c":"c2","x":26.05,"y":70},{"c":"c2","x":26.3,"y":95},{"c":"c2","x":26.5,"y":180},{"c":"c2","x":26.7,"y":299},{"c":"c2","x":26.9,"y":150},{"c":"c2","x":27.1,"y":55},{"c":"c2","x":27.3,"y":42},{"c":"c2","x":27.6,"y":38},{"c":"c2","x":27.9,"y":42},{"c":"c2","x":28.2,"y":35},{"c":"c2","x":28.5,"y":39},{"c":"c2","x":28.8,"y":33},{"c":"c2","x":29.1,"y":40},{"c":"c2","x":29.4,"y":35},{"c":"c2","x":29.7,"y":41},{"c":"c2","x":30.0,"y":36},{"c":"c2","x":30.3,"y":39},{"c":"c2","x":30.6,"y":33},{"c":"c2","x":30.9,"y":38},{"c":"c2","x":31.2,"y":31},{"c":"c2","x":31.5,"y":37},{"c":"c2","x":31.8,"y":33},{"c":"c2","x":32.1,"y":39},{"c":"c2","x":32.4,"y":32},{"c":"c2","x":32.7,"y":36},{"c":"c2","x":33.0,"y":38},{"c":"c2","x":33.3,"y":43},{"c":"c2","x":33.6,"y":35},{"c":"c2","x":33.95,"y":19},{"c":"c2","x":34.3,"y":30},{"c":"c2","x":34.6,"y":33},{"c":"c2","x":34.9,"y":38},{"c":"c2","x":35.2,"y":43},{"c":"c2","x":35.45,"y":50},{"c":"c2","x":35.7,"y":38},{"c":"c2","x":36.0,"y":34},{"c":"c2","x":36.3,"y":40},{"c":"c2","x":36.6,"y":36},{"c":"c2","x":36.85,"y":42},{"c":"c2","x":37.1,"y":35},{"c":"c2","x":37.4,"y":38},{"c":"c2","x":37.7,"y":31},{"c":"c2","x":38.0,"y":35},{"c":"c2","x":38.3,"y":28},{"c":"c2","x":38.6,"y":33},{"c":"c2","x":38.9,"y":27},{"c":"c2","x":39.2,"y":35},{"c":"c2","x":39.5,"y":49},{"c":"c2","x":39.75,"y":36},{"c":"c2","x":40.0,"y":38},{"c":"c2","x":40.3,"y":33},{"c":"c2","x":40.6,"y":37},{"c":"c2","x":40.95,"y":44},{"c":"c2","x":41.2,"y":32},{"c":"c2","x":41.5,"y":20},{"c":"c2","x":41.8,"y":28},{"c":"c2","x":42.1,"y":30},{"c":"c2","x":42.35,"y":38},{"c":"c2","x":42.6,"y":39},{"c":"c2","x":42.9,"y":28},{"c":"c2","x":43.2,"y":22},{"c":"c2","x":43.5,"y":25},{"c":"c2","x":43.8,"y":21},{"c":"c2","x":44.1,"y":24},{"c":"c2","x":44.4,"y":20},{"c":"c2","x":44.7,"y":23},{"c":"c2","x":45.0,"y":25},{"c":"c2","x":45.3,"y":21},{"c":"c2","x":45.6,"y":24},{"c":"c2","x":45.9,"y":20},{"c":"c2","x":46.2,"y":22},{"c":"c2","x":46.45,"y":17},{"c":"c2","x":46.7,"y":22},{"c":"c2","x":47.0,"y":19},{"c":"c2","x":47.3,"y":24},{"c":"c2","x":47.6,"y":20},{"c":"c2","x":47.9,"y":23},{"c":"c2","x":48.2,"y":19},{"c":"c2","x":48.5,"y":24},{"c":"c2","x":48.8,"y":20},{"c":"c2","x":49.1,"y":24},{"c":"c2","x":49.4,"y":22},{"c":"c2","x":49.7,"y":30},{"c":"c2","x":49.95,"y":35},{"c":"c2","x":50.15,"y":39},{"c":"c2","x":50.4,"y":27},{"c":"c2","x":50.7,"y":22},{"c":"c2","x":51.0,"y":24},{"c":"c2","x":51.3,"y":20},{"c":"c2","x":51.6,"y":23},{"c":"c2","x":51.85,"y":17},{"c":"c2","x":52.1,"y":22},{"c":"c2","x":52.4,"y":19},{"c":"c2","x":52.7,"y":22},{"c":"c2","x":53.0,"y":20},{"c":"c2","x":53.3,"y":24},{"c":"c2","x":53.6,"y":27},{"c":"c2","x":53.9,"y":30},{"c":"c2","x":54.2,"y":27},{"c":"c2","x":54.5,"y":28},{"c":"c2","x":54.8,"y":25},{"c":"c2","x":55.1,"y":27},{"c":"c2","x":55.4,"y":22},{"c":"c2","x":55.7,"y":25},{"c":"c2","x":56.0,"y":20},{"c":"c2","x":56.3,"y":23},{"c":"c2","x":56.6,"y":19},{"c":"c2","x":56.9,"y":23},{"c":"c2","x":57.2,"y":20},{"c":"c2","x":57.5,"y":24},{"c":"c2","x":57.8,"y":21},{"c":"c2","x":58.1,"y":24},{"c":"c2","x":58.4,"y":20},{"c":"c2","x":58.7,"y":23},{"c":"c2","x":59.0,"y":21},{"c":"c2","x":59.3,"y":25},{"c":"c2","x":59.55,"y":32},{"c":"c2","x":59.7,"y":35},{"c":"c2","x":59.85,"y":30},{"c":"c2","x":60.0,"y":28}
],
"tc": [
{"k":"panel","x":8.09,"y":419,"t":"c)"},
{"k":"peak","x":27.1,"y":447,"t":"Q"},
{"k":"label","x":48.74,"y":417,"t":"Q - Quartzo"},
{"k":"label","x":48.74,"y":395,"t":"M - Mulita"},
{"k":"peak","x":21.05,"y":185,"t":"Q"},
{"k":"peak","x":25.6,"y":175,"t":"M"},
{"k":"peak","x":16.77,"y":155,"t":"M"},
{"k":"label","x":36.5,"y":159,"t":"E - Microondas - 1250 \u00a0°C/8min"},
{"k":"peak","x":33.8,"y":135,"t":"M"},
{"k":"peak","x":39.65,"y":135,"t":"Q"},
{"k":"peak","x":41.3,"y":129,"t":"M"},
{"k":"peak","x":50.4,"y":134,"t":"Q"},
{"k":"label","x":35.1,"y":75,"t":"E - Convencional - 1200 \u00a0°C/60min"}
]
},
"vconcat": [
{
 "width": 564, "height": 430,
 "resolve": {"axis": {"x": "independent"}},
 "layer": [
  {"data": {"name": "ca"}, "mark": {"type": "line", "color": "#111", "strokeWidth": 1.4},
   "encoding": {
    "x": {"field": "x", "type": "quantitative", "scale": {"domain": [10, 60], "nice": false, "zero": false}, "axis": {"values": [10,15,20,25,30,35,40,45,50,55,60], "tickSize": 7, "labelPadding": 6, "title": "2 θ (grau)", "titlePadding": 11}},
    "y": {"field": "y", "type": "quantitative", "scale": {"domain": [0, 430], "nice": false, "zero": false}, "axis": null},
    "detail": {"field": "c"}}},
  {"data": {"name": "ta"}, "transform": [{"filter": "datum.k == 'panel'"}], "mark": {"type": "text", "align": "left", "baseline": "middle", "fontSize": 16, "color": "#111"},
   "encoding": {
    "x": {"field": "x", "type": "quantitative", "axis": {"orient": "bottom", "values": [12.5,17.5,22.5,27.5,32.5,37.5,42.5,47.5,52.5,57.5], "tickSize": 4, "labels": false, "domain": false, "title": null}},
    "y": {"field": "y", "type": "quantitative", "axis": null},
    "text": {"field": "t"}}},
  {"data": {"name": "ta"}, "transform": [{"filter": "datum.k == 'peak'"}], "mark": {"type": "text", "align": "center", "baseline": "middle", "fontSize": 17, "color": "#111"},
   "encoding": {
    "x": {"field": "x", "type": "quantitative", "axis": null},
    "y": {"field": "y", "type": "quantitative", "axis": null},
    "text": {"field": "t"}}},
  {"data": {"name": "ta"}, "transform": [{"filter": "datum.k == 'label'"}], "mark": {"type": "text", "align": "left", "baseline": "middle", "fontSize": 19, "color": "#111"},
   "encoding": {
    "x": {"field": "x", "type": "quantitative", "axis": null},
    "y": {"field": "y", "type": "quantitative", "axis": null},
    "text": {"field": "t"}}}
 ]
},
{
 "width": 578, "height": 432,
 "resolve": {"axis": {"x": "independent"}},
 "layer": [
  {"data": {"name": "cb"}, "mark": {"type": "line", "color": "#111", "strokeWidth": 1.4},
   "encoding": {
    "x": {"field": "x", "type": "quantitative", "scale": {"domain": [10, 60], "nice": false, "zero": false}, "axis": {"values": [10,15,20,25,30,35,40,45,50,55,60], "tickSize": 7, "labelPadding": 6, "title": "2 θ (grau)", "titlePadding": 11}},
    "y": {"field": "y", "type": "quantitative", "scale": {"domain": [0, 432], "nice": false, "zero": false}, "axis": null},
    "detail": {"field": "c"}}},
  {"data": {"name": "tb"}, "transform": [{"filter": "datum.k == 'panel'"}], "mark": {"type": "text", "align": "left", "baseline": "middle", "fontSize": 16, "color": "#111"},
   "encoding": {
    "x": {"field": "x", "type": "quantitative", "axis": {"orient": "bottom", "values": [12.5,17.5,22.5,27.5,32.5,37.5,42.5,47.5,52.5,57.5], "tickSize": 4, "labels": false, "domain": false, "title": null}},
    "y": {"field": "y", "type": "quantitative", "axis": null},
    "text": {"field": "t"}}},
  {"data": {"name": "tb"}, "transform": [{"filter": "datum.k == 'peak'"}], "mark": {"type": "text", "align": "center", "baseline": "middle", "fontSize": 17, "color": "#111"},
   "encoding": {
    "x": {"field": "x", "type": "quantitative", "axis": null},
    "y": {"field": "y", "type": "quantitative", "axis": null},
    "text": {"field": "t"}}},
  {"data": {"name": "tb"}, "transform": [{"filter": "datum.k == 'label'"}], "mark": {"type": "text", "align": "left", "baseline": "middle", "fontSize": 19, "color": "#111"},
   "encoding": {
    "x": {"field": "x", "type": "quantitative", "axis": null},
    "y": {"field": "y", "type": "quantitative", "axis": null},
    "text": {"field": "t"}}}
 ]
},
{
 "width": 564, "height": 455,
 "resolve": {"axis": {"x": "independent"}},
 "layer": [
  {"data": {"name": "cc"}, "mark": {"type": "line", "color": "#111", "strokeWidth": 1.4},
   "encoding": {
    "x": {"field": "x", "type": "quantitative", "scale": {"domain": [10, 60], "nice": false, "zero": false}, "axis": {"values": [10,15,20,25,30,35,40,45,50,55,60], "tickSize": 7, "labelPadding": 6, "title": "2 θ (grau)", "titlePadding": 11}},
    "y": {"field": "y", "type": "quantitative", "scale": {"domain": [0, 455], "nice": false, "zero": false}, "axis": null},
    "detail": {"field": "c"}}},
  {"data": {"name": "tc"}, "transform": [{"filter": "datum.k == 'panel'"}], "mark": {"type": "text", "align": "left", "baseline": "middle", "fontSize": 16, "color": "#111"},
   "encoding": {
    "x": {"field": "x", "type": "quantitative", "axis": {"orient": "bottom", "values": [12.5,17.5,22.5,27.5,32.5,37.5,42.5,47.5,52.5,57.5], "tickSize": 4, "labels": false, "domain": false, "title": null}},
    "y": {"field": "y", "type": "quantitative", "axis": null},
    "text": {"field": "t"}}},
  {"data": {"name": "tc"}, "transform": [{"filter": "datum.k == 'peak'"}], "mark": {"type": "text", "align": "center", "baseline": "middle", "fontSize": 17, "color": "#111"},
   "encoding": {
    "x": {"field": "x", "type": "quantitative", "axis": null},
    "y": {"field": "y", "type": "quantitative", "axis": null},
    "text": {"field": "t"}}},
  {"data": {"name": "tc"}, "transform": [{"filter": "datum.k == 'label'"}], "mark": {"type": "text", "align": "left", "baseline": "middle", "fontSize": 19, "color": "#111"},
   "encoding": {
    "x": {"field": "x", "type": "quantitative", "axis": null},
    "y": {"field": "y", "type": "quantitative", "axis": null},
    "text": {"field": "t"}}}
 ]
}
]
}
